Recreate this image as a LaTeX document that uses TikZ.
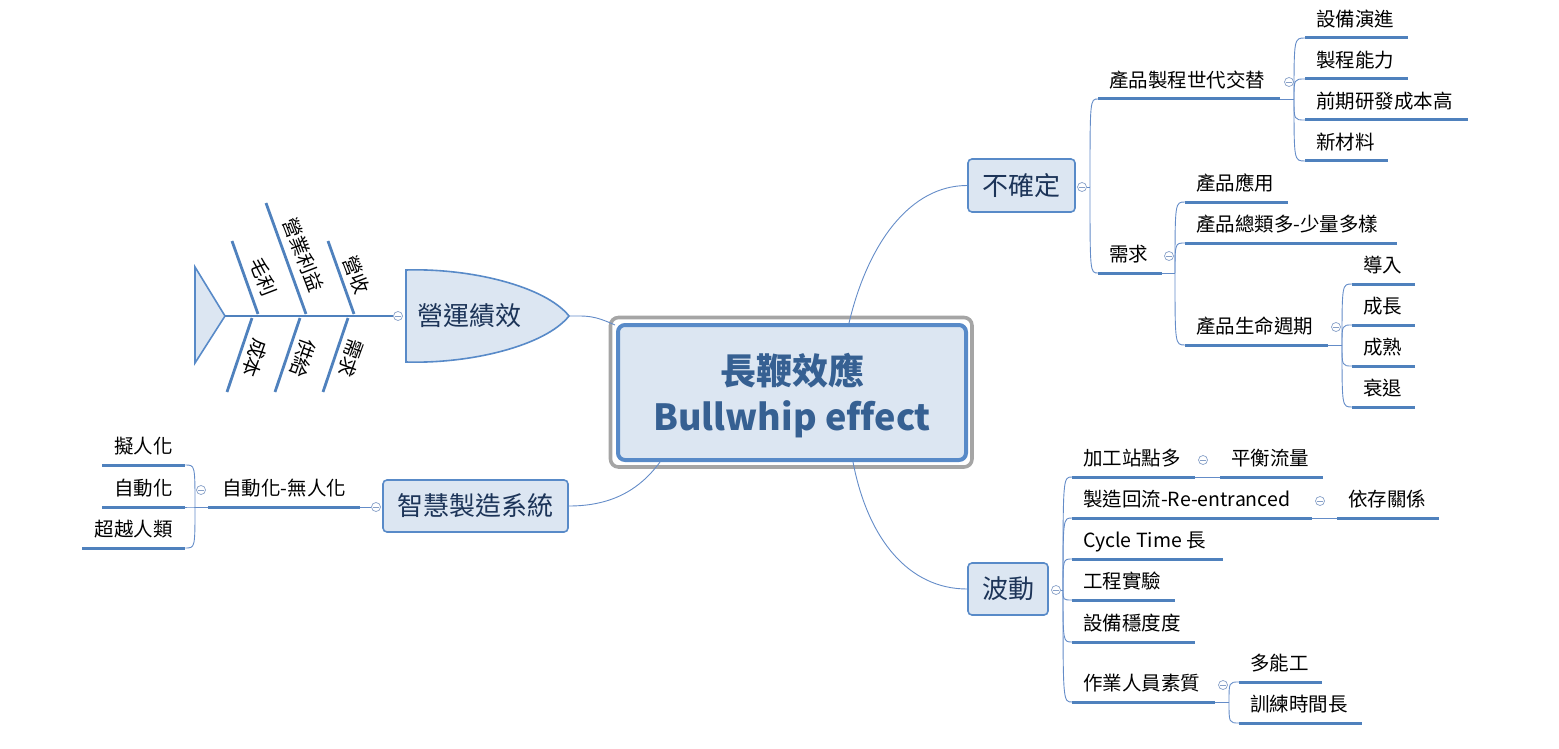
\documentclass[tikz,border=0pt]{standalone}
\usepackage{fontspec}
\setmainfont{Noto Sans CJK TC}
\usetikzlibrary{calc}
\definecolor{lineblue}{RGB}{79,129,189}
\definecolor{connblue}{RGB}{100,140,200}
\definecolor{topicfill}{RGB}{220,230,242}
\definecolor{topicdraw}{RGB}{88,138,200}
\definecolor{topictext}{RGB}{28,52,88}
\definecolor{centertext}{RGB}{54,96,146}
\definecolor{selgray}{RGB}{165,165,165}
\definecolor{collc}{RGB}{135,160,200}
\newcommand\leaffont{\fontsize{19.5}{22}\selectfont}
\newcommand\topicfont{\fontsize{26}{30}\selectfont}
\newcommand\centerfont{\fontsize{36}{40}\selectfont\bfseries\addfontfeature{Ligatures=NoCommon}}
\tikzset{
  leaf/.style={font=\leaffont, text=black, inner xsep=0pt, inner ysep=6.5pt, text height=15pt, text depth=5pt},
  uline/.style={draw=lineblue, line width=3pt},
  conn/.style={draw=connblue, line width=0.9pt},
  topicbox/.style={draw=topicdraw, fill=topicfill, line width=1.6pt, rounded corners=4pt, font=\topicfont, text=topictext, inner sep=0pt},
  coll/.style={circle, draw=collc, line width=0.7pt, fill=white, minimum size=9pt, inner sep=0pt,
    path picture={\draw[collc,line width=0.7pt] ([xshift=-2.6pt]path picture bounding box.center) -- ([xshift=2.6pt]path picture bounding box.center);}},
  bone/.style={draw=lineblue, line width=2.8pt},
  bonetext/.style={font=\leaffont, text=black, inner sep=0pt},
}
% name, x1, x2, y(underline), text ; alignment l/c/r
\newcommand\mmleaf[6][l]{%
  \pgfmathsetmacro\mmtw{#4-#3-22}%
  \node[leaf, anchor=south west] (#2) at (#3,#5) {\hspace*{11pt}\makebox[\mmtw pt][#1]{#6}\hspace*{11pt}};%
  \draw[uline] (#2.south west) -- (#2.south east);}
\begin{document}
\begin{tikzpicture}[x=1pt,y=-1pt]
\useasboundingbox (0,0) rectangle (1559,749);

% ---------- central node ----------
\node[draw=topicdraw, fill=topicfill, line width=4pt, rounded corners=7pt, minimum width=348pt, minimum height=135pt] (c) at (792,392.5) {};
\draw[selgray, line width=3.6pt, rounded corners=8pt] ([xshift=-5.5pt,yshift=5.5pt]c.north west) rectangle ([xshift=4pt,yshift=-5pt]c.south east);
\node[font=\centerfont, text=centertext, anchor=base, inner sep=0pt] (ct1) at (792,384) {長鞭效應};
\node[font=\centerfont, text=centertext, anchor=base, inner sep=0pt] (ct2) at (792,430) {Bullwhip effect};

% ---------- 不確定 ----------
\node[topicbox, minimum width=107pt, minimum height=53pt] (ue) at (1021.5,185.5) {不確定};
\node[coll] (cue) at (1082,187) {};
\coordinate (jue) at (1090,187);
\draw[conn] ([xshift=57pt]c.north) .. controls +(19,-80) and +(-57,0) .. (ue.west);

\mmleaf{p1}{1098}{1280}{99}{產品製程世代交替}
\mmleaf{p2}{1098}{1162}{273}{需求}
\draw[conn] (cue.east) -- (jue);
\foreach \n in {p1,p2} \draw[conn] (jue) .. controls (jue |- \n.south west) .. (\n.south west);

\node[coll] (cp1) at (1289,82) {};
\coordinate (jp1) at (1294,99);
\mmleaf{a1}{1305}{1408}{38}{設備演進}
\mmleaf{a2}{1305}{1408}{79}{製程能力}
\mmleaf{a3}{1305}{1468}{120}{前期研發成本高}
\mmleaf{a4}{1305}{1388}{161}{新材料}
\draw[conn] (p1.south east) -- (jp1);
\foreach \n in {a1,a2,a3,a4} \draw[conn] (jp1) .. controls (jp1 |- \n.south west) .. (\n.south west);

\node[coll] (cp2) at (1169,256) {};
\coordinate (jp2) at (1175,273);
\mmleaf{b1}{1185}{1288}{202}{產品應用}
\mmleaf{b2}{1185}{1397}{243}{產品總類多-少量多樣}
\mmleaf{b3}{1185}{1328}{345}{產品生命週期}
\draw[conn] (p2.south east) -- (jp2);
\foreach \n in {b1,b2,b3} \draw[conn] (jp2) .. controls (jp2 |- \n.south west) .. (\n.south west);

\node[coll] (cb3) at (1336,327) {};
\coordinate (jb3) at (1342,345);
\mmleaf{d1}{1352}{1415}{284}{導入}
\mmleaf{d2}{1352}{1415}{325}{成長}
\mmleaf{d3}{1352}{1415}{366}{成熟}
\mmleaf{d4}{1352}{1415}{407}{衰退}
\draw[conn] (b3.south east) -- (jb3);
\foreach \n in {d1,d2,d3,d4} \draw[conn] (jb3) .. controls (jb3 |- \n.south west) .. (\n.south west);

% ---------- 波動 ----------
\node[topicbox, minimum width=80pt, minimum height=52pt] (bd) at (1008,589) {波動};
\node[coll] (cbd) at (1056,590) {};
\coordinate (jbd) at (1063,590);
\draw[conn] ([xshift=61pt]c.south) .. controls +(15,78) and +(-58,0) .. (bd.west);

\mmleaf{e1}{1072}{1195}{477}{加工站點多}
\mmleaf{e2}{1072}{1312}{518}{製造回流-Re-entranced}
\mmleaf{e3}{1072}{1223}{559}{Cycle Time 長}
\mmleaf{e4}{1072}{1175}{600}{工程實驗}
\mmleaf{e5}{1072}{1195}{642}{設備穩度度}
\mmleaf{e6}{1072}{1215}{702}{作業人員素質}
\draw[conn] (cbd.east) -- (jbd);
\foreach \n in {e1,e2,e3,e4,e5,e6} \draw[conn] (jbd) .. controls (jbd |- \n.south west) .. (\n.south west);

\node[coll] (ce1) at (1203,460) {};
\mmleaf{f1}{1220}{1323}{477}{平衡流量}
\draw[conn] (e1.south east) -- (f1.south west);

\node[coll] (ce2) at (1320,501) {};
\mmleaf{f2}{1337}{1439}{518}{依存關係}
\draw[conn] (e2.south east) -- (f2.south west);

\node[coll] (ce6) at (1223,685) {};
\coordinate (je6) at (1229,702);
\mmleaf{g1}{1239}{1322}{682}{多能工}
\mmleaf{g2}{1239}{1362}{723}{訓練時間長}
\draw[conn] (e6.south east) -- (je6);
\foreach \n in {g1,g2} \draw[conn] (je6) .. controls (je6 |- \n.south west) .. (\n.south west);

% ---------- 營運績效 (fishbone) ----------
\draw[draw=topicdraw, fill=topicfill, line width=1.6pt] (406,270) .. controls (470,268) and (545,286) .. (569,316) .. controls (545,346) and (470,364) .. (406,362) -- cycle;
\node[font=\topicfont, text=topictext, inner sep=0pt] (op) at (469,316) {營運績效};
\coordinate (optip) at (569,316);
\draw[conn] (optip) .. controls +(18,0) and +(-22,-10) .. ([xshift=-1pt,yshift=-2pt]c.north west);
\node[coll] (cop) at (398,316) {};
\draw[draw=topicdraw, fill=topicfill, line width=1.6pt] (195,267) -- (225,316) -- (195,363) -- cycle;
\coordinate (fhead) at (225,316);
\draw[draw=lineblue, line width=2.4pt] (fhead) -- (cop.west);
% bones
\draw[bone] (232,241) -- (258,314);
\draw[bone] (266,203) -- (306,314);
\draw[bone] (328,241) -- (354,314);
\draw[bone] (252,318) -- (227,392);
\draw[bone] (300,318) -- (275,392);
\draw[bone] (348,318) -- (323,392);
\node[bonetext, rotate=-69] (t1) at (263,277) {毛利};
\node[bonetext, rotate=-69] (t2) at (303,255) {營業利益};
\node[bonetext, rotate=-69] (t3) at (356,275) {營收};
\node[bonetext, rotate=-110] (t4) at (255,358) {成本};
\node[bonetext, rotate=-110] (t5) at (303,358) {供給};
\node[bonetext, rotate=-110] (t6) at (351,358) {需求};

% ---------- 智慧製造系統 ----------
\node[topicbox, minimum width=185pt, minimum height=52pt] (zh) at (475.5,506) {智慧製造系統};
\draw[conn] (zh.east) .. controls +(40,0) and +(-22,30) .. ([xshift=-132pt]c.south);
\node[coll] (czh) at (376,507) {};
\mmleaf[c]{h1}{208}{360}{507}{自動化-無人化}
\draw[conn] (czh.west) -- (h1.south east);
\node[coll] (ch1) at (201,490) {};
\coordinate (jh1) at (195,507);
\mmleaf[c]{k1}{102}{185}{465}{擬人化}
\mmleaf[c]{k2}{102}{185}{507}{自動化}
\mmleaf[c]{k3}{82}{185}{548}{超越人類}
\draw[conn] (h1.south west) -- (jh1);
\foreach \n in {k1,k2,k3} \draw[conn] (jh1) .. controls (jh1 |- \n.south east) .. (\n.south east);
\end{tikzpicture}
\end{document}
